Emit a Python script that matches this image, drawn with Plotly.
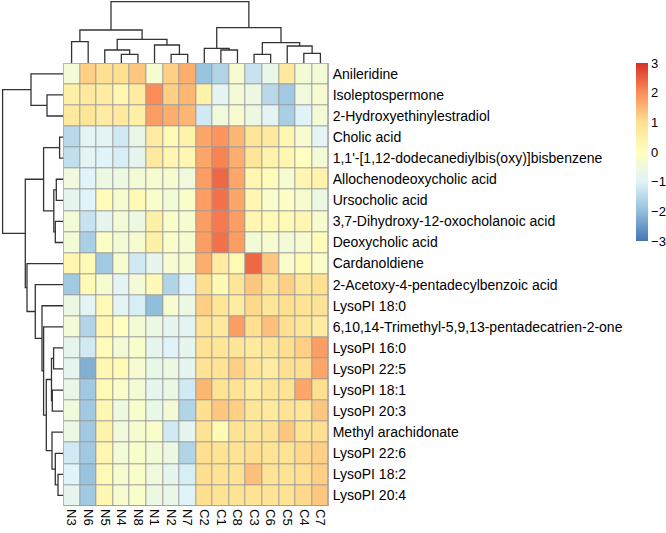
import plotly.graph_objects as go

W, H = 666, 533

col_labels = ["N3", "N6", "N5", "N4", "N8", "N1", "N2", "N7",
              "C2", "C1", "C8", "C3", "C6", "C5", "C4", "C7"]

row_labels = [
    "Anileridine",
    "Isoleptospermone",
    "2-Hydroxyethinylestradiol",
    "Cholic acid",
    "1,1'-[1,12-dodecanediylbis(oxy)]bisbenzene",
    "Allochenodeoxycholic acid",
    "Ursocholic acid",
    "3,7-Dihydroxy-12-oxocholanoic acid",
    "Deoxycholic acid",
    "Cardanoldiene",
    "2-Acetoxy-4-pentadecylbenzoic acid",
    "LysoPI 18:0",
    "6,10,14-Trimethyl-5,9,13-pentadecatrien-2-one",
    "LysoPI 16:0",
    "LysoPI 22:5",
    "LysoPI 18:1",
    "LysoPI 20:3",
    "Methyl arachidonate",
    "LysoPI 22:6",
    "LysoPI 18:2",
    "LysoPI 20:4",
]

# z-scores (rows in display order, columns in display order)
values = [
    [-0.4, 1.2, 1.0, 1.0, 1.3, -0.3, 1.2, 1.6, -1.9, -1.6, -0.3, -1.3, -0.7, 0.7, -0.4, -0.4],
    [0.5, 0.7, 0.6, 0.3, 0.6, 2.0, 1.2, 1.5, 0.4, -0.9, -0.4, -0.6, -1.5, -1.8, -0.5, -0.3],
    [0.7, 0.8, 0.6, 0.7, 0.5, 1.8, 1.6, 1.5, -1.2, -0.5, -0.3, -0.6, -0.9, -1.7, -1.0, -0.4],
    [-1.5, -0.9, -0.9, -1.2, -0.7, 0.6, 0.2, 0.4, 1.7, 1.9, 1.5, 0.8, 0.7, 0.3, -0.3, -0.9],
    [-1.4, -0.9, -1.0, -1.1, -0.8, 0.7, 0.3, 0.3, 1.7, 2.1, 1.6, 0.8, 0.4, 0.3, 0.0, -0.4],
    [-0.5, -1.0, -0.6, -0.6, -0.4, -0.3, -0.3, -0.5, 1.8, 2.4, 1.7, 0.3, 0.1, -0.3, 0.3, 0.4],
    [-0.8, -1.0, 0.1, -0.3, 0.2, -0.2, -0.4, -0.2, 1.8, 2.3, 1.7, 0.3, -0.2, -0.1, -0.3, -0.6],
    [-0.4, -1.3, -0.8, -0.4, -0.6, 0.5, -0.2, -0.3, 1.8, 2.2, 1.8, 0.3, 0.2, 0.2, 0.3, -0.3],
    [-0.4, -1.7, -0.1, -0.4, -0.3, 0.5, -0.2, -0.3, 1.8, 2.3, 1.8, -0.4, -0.3, -0.4, -0.3, 0.1],
    [0.3, 0.2, -1.8, -0.3, -1.2, -0.8, -0.3, -0.3, 1.6, 0.6, 0.2, 2.4, 1.3, -0.2, 0.2, -0.2],
    [-1.8, 0.2, -0.3, -0.9, -0.4, 0.2, -1.6, -1.0, 1.0, 0.2, 0.8, 1.3, 0.9, 1.2, 0.8, 1.0],
    [-0.6, -0.9, 0.2, -0.9, -1.1, -2.0, -0.3, -0.6, 1.2, 0.8, 0.6, 1.1, 0.8, 1.0, 0.9, 0.9],
    [-0.4, -1.6, 0.3, 0.0, -0.4, -0.6, -0.8, -0.9, 0.9, 0.7, 1.8, 1.0, 1.4, 1.0, 0.8, 0.6],
    [-0.8, -1.2, 0.1, -0.4, -0.2, -0.8, -1.0, -0.8, 0.9, 0.8, 0.8, 0.7, 0.8, 1.0, 1.2, 1.8],
    [-0.8, -2.2, 0.3, 0.2, -0.3, -0.7, -0.6, -0.8, 0.9, 0.9, 1.2, 0.8, 0.6, 1.0, 1.0, 1.7],
    [-0.7, -1.8, 0.2, -0.2, -0.4, -0.8, -0.7, -1.2, 1.5, 0.9, 0.9, 0.6, 0.8, 0.9, 1.7, 1.0],
    [-0.5, -1.8, 0.3, -0.6, -0.2, -0.7, -0.4, -1.6, 1.0, 1.3, 1.2, 0.8, 0.7, 0.9, 0.8, 1.3],
    [-0.6, -1.8, 0.4, -0.5, -0.3, -0.2, -1.2, -0.8, 0.9, 0.2, 0.9, 0.8, 0.9, 1.3, 0.9, 1.0],
    [-1.2, -1.8, 0.3, -0.4, -0.2, -0.4, -0.6, -1.6, 1.0, 0.9, 0.9, 1.0, 0.9, 0.9, 1.1, 1.2],
    [-1.0, -1.9, 0.2, -0.3, -0.2, -0.5, -0.8, -1.1, 1.0, 0.9, 0.9, 1.4, 0.9, 0.9, 1.0, 1.2],
    [-0.8, -1.8, 0.3, -0.3, -0.2, -0.6, -0.7, -1.0, 1.0, 0.9, 0.9, 0.9, 0.9, 0.9, 1.1, 1.3],
]

# Hierarchical clustering merges (scipy-style: leaves 0..n-1, merges n, n+1, ...)
row_merges = [
    (1, 2, 16.3), (0, 21, 32.3), (3, 4, 3.7), (5, 6, 7.0), (7, 8, 8.0),
    (24, 25, 9.5), (23, 26, 19.7), (19, 20, 5.3), (18, 28, 8.0), (17, 29, 11.3),
    (13, 14, 9.7), (15, 16, 11.0), (31, 32, 11.8), (33, 30, 17.0), (12, 34, 19.7),
    (11, 35, 21.3), (10, 36, 28.0), (9, 37, 36.3), (27, 38, 38.0), (22, 39, 60.7),
]
col_merges = [
    (0, 1, 21.6), (3, 4, 9.0), (2, 17, 13.3), (6, 7, 9.0), (5, 19, 18.3),
    (18, 20, 24.0), (16, 21, 33.3), (9, 10, 13.3), (8, 23, 15.0), (11, 12, 9.0),
    (14, 15, 10.0), (13, 26, 17.3), (25, 27, 20.6), (24, 28, 35.6), (22, 29, 61.6),
]

colorscale = [
    [0.0, "#4575B4"], [1 / 6, "#91BFDB"], [2 / 6, "#E0F3F8"], [3 / 6, "#FFFFBF"],
    [4 / 6, "#FEE090"], [5 / 6, "#FC8D59"], [1.0, "#D73027"],
]


def dendro_segments(merges, n):
    pos = {i: float(i) for i in range(n)}
    hgt = {i: 0.0 for i in range(n)}
    P, Hh = [], []
    for k, (a, b, h) in enumerate(merges):
        nid = n + k
        pa, pb = pos[a], pos[b]
        P += [pa, pa, pb, pb, None]
        Hh += [hgt[a], h, h, hgt[b], None]
        pos[nid] = (pa + pb) / 2
        hgt[nid] = h
    return P, Hh


nr, nc = len(row_labels), len(col_labels)

# pixel geometry -> paper fractions
hx0, hx1 = 63.3, 328.7
hy0, hy1 = 63.3, 506.0
dom_x = [hx0 / W, hx1 / W]
dom_y = [1 - hy1 / H, 1 - hy0 / H]

FAM = "Liberation Sans, Arial, sans-serif"
row_font = dict(family=FAM, size=14, color="#000")
col_font = dict(family=FAM, size=13, color="#000")

fig = go.Figure()

fig.add_trace(go.Heatmap(
    z=values, x=list(range(nc)), y=list(range(nr)),
    colorscale=colorscale, zmin=-3, zmax=3, xgap=1, ygap=1,
    hoverinfo="skip",
    colorbar=dict(
        x=636 / W, xanchor="left", y=1 - 63 / H, yanchor="top",
        len=(241 - 63) / H, lenmode="fraction", thickness=12,
        xpad=0, ypad=0, outlinewidth=0,
        tickvals=[-3, -2, -1, 0, 1, 2, 3], ticks="", ticklen=0,
        tickfont=dict(family=FAM, size=13, color="#000"),
    ),
    xaxis="x", yaxis="y",
))

line_style = dict(color="#333333", width=1.3)
rp, rh = dendro_segments(row_merges, nr)
fig.add_trace(go.Scatter(x=rh, y=rp, mode="lines", line=line_style,
                         xaxis="x2", yaxis="y2", hoverinfo="skip", showlegend=False))
cp, ch = dendro_segments(col_merges, nc)
fig.add_trace(go.Scatter(x=cp, y=ch, mode="lines", line=line_style,
                         xaxis="x3", yaxis="y3", hoverinfo="skip", showlegend=False))

fig.update_layout(
    width=W, height=H, margin=dict(l=0, r=0, t=0, b=0, autoexpand=False),
    paper_bgcolor="white", plot_bgcolor="white", showlegend=False,
    font=row_font,
    xaxis=dict(domain=dom_x, range=[-0.5, nc - 0.5], tickvals=list(range(nc)),
               ticktext=col_labels, tickangle=90, ticks="", ticklen=0, showgrid=False,
               zeroline=False, showline=False, anchor="y", tickfont=col_font,
               automargin=False, ticklabelstandoff=2),
    yaxis=dict(domain=dom_y, range=[nr - 0.5, -0.5], tickvals=list(range(nr)),
               ticktext=row_labels, side="right", ticks="", ticklen=0, showgrid=False,
               zeroline=False, showline=False, anchor="x", tickfont=row_font,
               automargin=False, ticklabelstandoff=3),
    xaxis2=dict(domain=[0, hx0 / W], range=[hx0, 0], visible=False, anchor="y2"),
    yaxis2=dict(domain=dom_y, range=[nr - 0.5, -0.5], visible=False, anchor="x2"),
    xaxis3=dict(domain=dom_x, range=[-0.5, nc - 0.5], visible=False, anchor="y3"),
    yaxis3=dict(domain=[dom_y[1], 1], range=[0, hy0], visible=False, anchor="x3"),
    shapes=[
        dict(type="rect", xref="x", yref="y", x0=-0.5, x1=nc - 0.5, y0=-0.5, y1=nr - 0.5,
             fillcolor="#999999", line=dict(width=0), layer="below"),
        dict(type="rect", xref="x", yref="y", x0=-0.5, x1=nc - 0.5, y0=-0.5, y1=nr - 0.5,
             fillcolor="rgba(0,0,0,0)", line=dict(color="#999999", width=1), layer="above"),
    ],
)

fig.write_html("out.html", config={"displayModeBar": False},
               post_script="document.body.style.margin='0px';document.body.style.overflow='hidden';")
